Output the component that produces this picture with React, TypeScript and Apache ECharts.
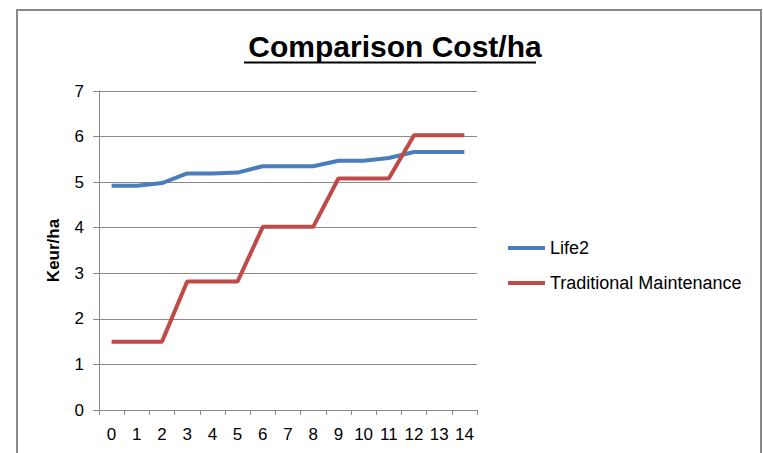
import React, { useEffect, useRef } from "react";
import * as echarts from "echarts";

const categories = ["0", "1", "2", "3", "4", "5", "6", "7", "8", "9", "10", "11", "12", "13", "14"];
const life2 = [4.92, 4.92, 4.98, 5.19, 5.19, 5.21, 5.35, 5.35, 5.35, 5.47, 5.47, 5.53, 5.66, 5.66, 5.66];
const traditional = [1.5, 1.5, 1.5, 2.82, 2.82, 2.82, 4.02, 4.02, 4.02, 5.08, 5.08, 5.08, 6.03, 6.03, 6.03];
const seriesNames = ["Life2", "Traditional Maintenance"];
const titleText = "Comparison Cost/ha";
const yAxisName = "Keur/ha";

const FONT = "'Liberation Sans', Arial, sans-serif";

export default function App() {
  const ref = useRef<HTMLDivElement>(null);
  useEffect(() => {
    if (!ref.current) return;
    const chart = echarts.init(ref.current, undefined, { renderer: "svg" });
    const gridColor = "#8a8a8a";
    chart.setOption({
      animation: false,
      backgroundColor: "#ffffff",
      title: {
        text: titleText,
        left: 390,
        top: 26,
        textAlign: "center",
        textStyle: { fontFamily: FONT, fontSize: 30, fontWeight: "bold", color: "#000" },
      },
      graphic: [
        {
          type: "rect",
          shape: { x: 17, y: 10, width: 744, height: 470 },
          style: { fill: "none", stroke: "#888888", lineWidth: 2 },
          silent: true,
        },
        {
          type: "line",
          shape: { x1: 244, y1: 62.5, x2: 536, y2: 62.5 },
          style: { stroke: "#000", lineWidth: 2 },
          silent: true,
        },
      ],
      legend: {
        orient: "vertical",
        left: 503,
        top: 234,
        itemGap: 17,
        itemWidth: 37,
        itemHeight: 4,
        icon: "rect",
        data: seriesNames,
        textStyle: { fontFamily: FONT, fontSize: 18, color: "#000", lineHeight: 18 },
      },
      grid: { left: 99, top: 91, width: 378, height: 319, containLabel: false },
      xAxis: {
        type: "category",
        data: categories,
        boundaryGap: true,
        axisLine: { lineStyle: { color: gridColor, width: 1 } },
        axisTick: { show: true, length: 5, lineStyle: { color: gridColor } },
        axisLabel: { fontFamily: FONT, fontSize: 17, color: "#000", margin: 16, interval: 0 },
      },
      yAxis: {
        type: "value",
        min: 0,
        max: 7,
        interval: 1,
        name: yAxisName,
        nameLocation: "middle",
        nameGap: 37,
        nameTextStyle: { fontFamily: FONT, fontSize: 17, fontWeight: "bold", color: "#000" },
        axisLine: { show: true, lineStyle: { color: gridColor, width: 1 } },
        axisTick: { show: true, length: 6, lineStyle: { color: gridColor } },
        axisLabel: { fontFamily: FONT, fontSize: 17, color: "#000", margin: 15 },
        splitLine: { show: true, lineStyle: { color: gridColor, width: 1 } },
      },
      series: [
        {
          name: seriesNames[0],
          type: "line",
          data: life2,
          symbol: "none",
          color: "#4a7ebb",
          lineStyle: { width: 4, color: "#4a7ebb" },
        },
        {
          name: seriesNames[1],
          type: "line",
          data: traditional,
          symbol: "none",
          color: "#be4b48",
          lineStyle: { width: 4, color: "#be4b48" },
        },
      ],
    });
    return () => chart.dispose();
  }, []);
  return (
    <div
      ref={ref}
      style={{ position: "absolute", left: 0, top: 0, width: 763, height: 453 }}
    />
  );
}
